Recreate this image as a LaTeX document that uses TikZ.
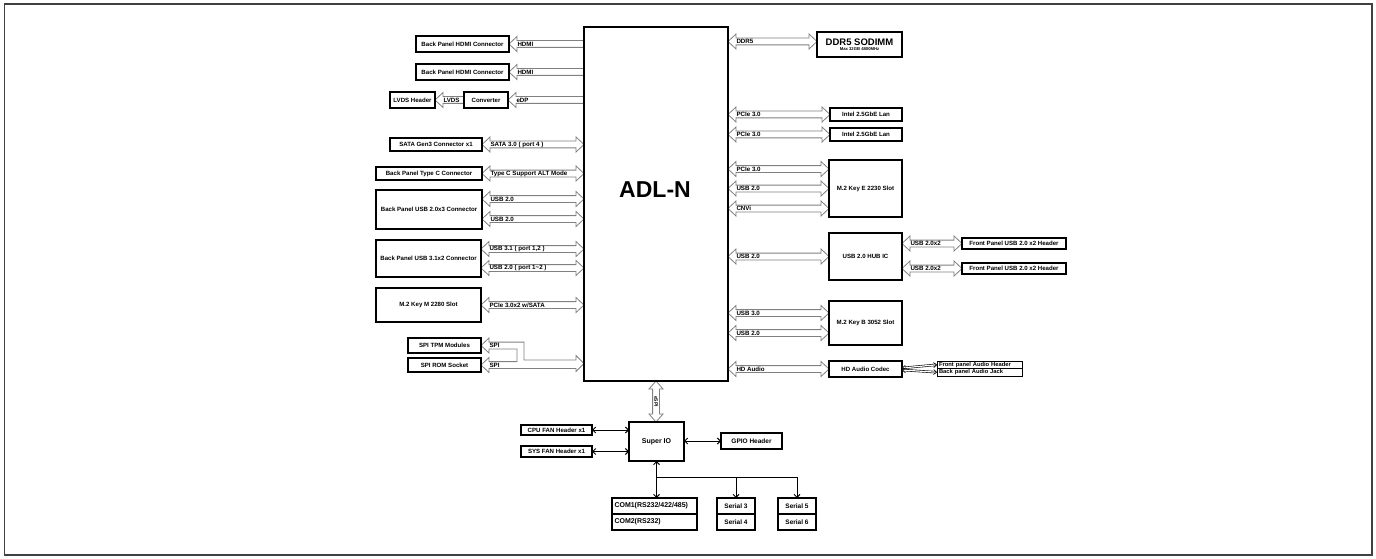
\documentclass[tikz,border=0pt]{standalone}
\usepackage{fontspec}
\setmainfont{Liberation Sans}
\usetikzlibrary{arrows.meta,calc}
\pgfdeclarelayer{bg}
\pgfsetlayers{bg,main}
\tikzset{
 bx/.style={draw=black,line width=1.1pt,inner sep=0pt,outer sep=0pt,align=center,fill=white,font=\bfseries\fontsize{6.1}{7}\selectfont},
 lbl/.style={inner sep=0pt,outer sep=0pt,font=\bfseries\fontsize{6.2}{7}\selectfont},
 blk/.style={draw=black!50,line width=0.8pt,fill=white,line join=miter},
 thinarr/.style={draw=black,line width=1pt,{Straight Barb[length=3pt,width=6pt]}-{Straight Barb[length=3pt,width=6pt]}},
 downarr/.style={draw=black,line width=1pt,-{Straight Barb[length=3pt,width=6pt]}},
 audarr/.style={draw=black,double=white,double distance=1.2pt,line width=0.6pt,{Straight Barb[length=3pt,width=5pt]}-{Straight Barb[length=3pt,width=5pt]}},
}
% double-headed horizontal block arrow: #1 left point, #2 right point, #3 label, #4 label name
\newcommand\hdbl[4]{%
 \draw[blk] let \p1=#1, \p2=#2 in
 (\x1,\y1) -- (\x1+8pt,\y1+7.5pt) -- (\x1+8pt,\y1+3.4pt) -- (\x2-8pt,\y1+3.4pt) -- (\x2-8pt,\y1+7.5pt)
 -- (\x2,\y1) -- (\x2-8pt,\y1-7.5pt) -- (\x2-8pt,\y1-3.4pt) -- (\x1+8pt,\y1-3.4pt) -- (\x1+8pt,\y1-7.5pt) -- cycle
 (\x1+8.5pt,\y1) node[lbl,anchor=west] (#4) {#3};}
% single-headed (head at left) horizontal block arrow
\newcommand\hsgl[4]{%
 \draw[blk] let \p1=#1, \p2=#2 in
 (\x1,\y1) -- (\x1+8pt,\y1+7.5pt) -- (\x1+8pt,\y1+3.4pt) -- (\x2,\y1+3.4pt)
 -- (\x2,\y1-3.4pt) -- (\x1+8pt,\y1-3.4pt) -- (\x1+8pt,\y1-7.5pt) -- cycle
 (\x1+8.5pt,\y1) node[lbl,anchor=west] (#4) {#3};}
\begin{document}
\begin{tikzpicture}[x=1pt,y=-1pt]
\useasboundingbox (0,0) rectangle (1376,559);
\begin{pgfonlayer}{bg}
\fill[white] (0,0) rectangle (1376,559);
\end{pgfonlayer}
\draw[line width=1.8pt,draw=black!75] (4.5,3.7) rectangle (1372,555);

% central chip
\node[bx,minimum width=144pt,minimum height=354pt] (adl) at (656,204) {};
\node[inner sep=0pt,font=\bfseries\fontsize{23}{25}\selectfont] (adltxt) at (655,190) {ADL-N};

% left side
\node[bx,minimum width=93pt,minimum height=16pt] (hdmi1) at (462.5,44) {Back Panel HDMI Connector};
\node[bx,minimum width=93pt,minimum height=16pt] (hdmi2) at (462.5,72) {Back Panel HDMI Connector};
\node[bx,minimum width=45pt,minimum height=16pt] (lvds) at (412.5,100) {LVDS Header};
\node[bx,minimum width=44pt,minimum height=16pt] (conv) at (486,100) {Converter};
\node[bx,minimum width=92pt,minimum height=13pt] (sata) at (436,144.5) {SATA Gen3 Connector x1};
\node[bx,minimum width=106pt,minimum height=13pt] (typec) at (429,173.5) {Back Panel Type C Connector};
\node[bx,minimum width=106pt,minimum height=39pt] (usb2x3) at (429,209.5) {Back Panel USB 2.0x3 Connector};
\node[bx,minimum width=105pt,minimum height=37pt] (usb31) at (428.5,258.5) {Back Panel USB 3.1x2 Connector};
\node[bx,minimum width=105pt,minimum height=34pt] (m2m) at (428.5,305) {M.2 Key M 2280 Slot};
\node[bx,minimum width=73pt,minimum height=15pt] (tpm) at (444.5,345.5) {SPI TPM Modules};
\node[bx,minimum width=73pt,minimum height=14pt] (rom) at (444.5,365) {SPI ROM Socket};

% right side
\node[bx,minimum width=85pt,minimum height=25pt] (ddr) at (859.5,44.5)
 {{\fontsize{9.5}{10}\selectfont DDR5 SODIMM}\\[-1.5pt]{\fontsize{4.2}{5}\selectfont Max 32GB 4800MHz}};
\node[bx,minimum width=72pt,minimum height=13pt] (lan1) at (866,114.5) {Intel 2.5GbE Lan};
\node[bx,minimum width=72pt,minimum height=13pt] (lan2) at (866,134.5) {Intel 2.5GbE Lan};
\node[bx,minimum width=73pt,minimum height=57pt] (m2e) at (865.5,188.5) {M.2 Key E 2230 Slot};
\node[bx,minimum width=73pt,minimum height=47pt] (hub) at (865.5,256.5) {USB 2.0 HUB IC};
\node[bx,minimum width=104pt,minimum height=11pt] (fp1) at (1014,243.5) {Front Panel USB 2.0 x2 Header};
\node[bx,minimum width=104pt,minimum height=11pt] (fp2) at (1014,268.5) {Front Panel USB 2.0 x2 Header};
\node[bx,minimum width=73pt,minimum height=44pt] (m2b) at (865.5,323) {M.2 Key B 3052 Slot};
\node[bx,minimum width=73pt,minimum height=16pt] (codec) at (865.5,369) {HD Audio Codec};
\node[bx,line width=0.9pt,text width=81pt,inner xsep=2pt,inner ysep=0pt,text height=4pt,text depth=1pt,minimum height=7.5pt,align=left,font=\bfseries\fontsize{5.8}{6}\selectfont] (fah) at (979.5,364.75) {Front panel Audio Header};
\node[bx,line width=0.9pt,text width=81pt,inner xsep=2pt,inner ysep=0pt,text height=4pt,text depth=1pt,minimum height=7.5pt,align=left,font=\bfseries\fontsize{5.8}{6}\selectfont] (baj) at (979.5,372.25) {Back panel Audio Jack};

% bottom
\node[bx,minimum width=55pt,minimum height=39pt,font=\bfseries\fontsize{7}{8}\selectfont] (superio) at (656.5,441.5) {Super IO};
\node[bx,minimum width=71pt,minimum height=10pt] (cpufan) at (556.5,430) {CPU FAN Header x1};
\node[bx,minimum width=71pt,minimum height=11pt] (sysfan) at (556.5,451.5) {SYS FAN Header x1};
\node[bx,minimum width=61pt,minimum height=16pt,font=\bfseries\fontsize{6.5}{7}\selectfont] (gpio) at (751.5,441) {GPIO Header};
\node[bx,text width=80pt,inner xsep=2.5pt,minimum height=16pt,align=left,font=\bfseries\fontsize{7}{8}\selectfont] (com1) at (654.5,506) {COM1(RS232/422/485)};
\node[bx,text width=80pt,inner xsep=2.5pt,minimum height=16pt,align=left,font=\bfseries\fontsize{7}{8}\selectfont] (com2) at (654.5,522) {COM2(RS232)};
\node[bx,minimum width=38pt,minimum height=16pt,font=\bfseries\fontsize{6.5}{7}\selectfont] (ser3) at (736,506) {Serial 3};
\node[bx,minimum width=38pt,minimum height=16pt,font=\bfseries\fontsize{6.5}{7}\selectfont] (ser4) at (736,522) {Serial 4};
\node[bx,minimum width=38pt,minimum height=16pt,font=\bfseries\fontsize{6.5}{7}\selectfont] (ser5) at (797,506) {Serial 5};
\node[bx,minimum width=38pt,minimum height=16pt,font=\bfseries\fontsize{6.5}{7}\selectfont] (ser6) at (797,522) {Serial 6};

\begin{pgfonlayer}{bg}
% left arrows
\hsgl{(hdmi1.east)}{(adl.west)}{HDMI}{a1}
\hsgl{(hdmi2.east)}{(adl.west)}{HDMI}{a2}
\hsgl{(lvds.east)}{(conv.west)}{LVDS}{a3}
\hsgl{(conv.east)}{(adl.west)}{eDP}{a4}
\hdbl{(sata.east)}{(adl.west)}{SATA 3.0 ( port 4 )}{a5}
\hdbl{(typec.east)}{(adl.west)}{Type C Support ALT Mode}{a6}
\hdbl{($(usb2x3.east)+(0,-10.5)$)}{(adl.west)}{USB 2.0}{a7}
\hdbl{($(usb2x3.east)+(0,9.5)$)}{(adl.west)}{USB 2.0}{a8}
\hdbl{($(usb31.east)+(0,-9.5)$)}{(adl.west)}{USB 3.1 ( port 1,2 )}{a9}
\hdbl{($(usb31.east)+(0,9.5)$)}{(adl.west)}{USB 2.0 ( port 1\textasciitilde 2 )}{a10}
\hdbl{(m2m.east)}{(adl.west)}{PCIe 3.0x2 w/SATA}{a11}
% SPI merged arrow
\draw[blk] let \p1=(tpm.east), \p2=(rom.east), \p3=(adl.west) in
 (\x1,\y1) -- (\x1+8pt,\y1+7.5pt) -- (\x1+8pt,\y1+3.4pt) -- (\x1+43pt,\y1+3.4pt) -- (\x1+43pt,\y2+5pt)
 -- (\x3-8pt,\y2+5pt) -- (\x3-8pt,\y2+9.5pt) -- (\x3,\y2+1.5pt) -- (\x3-8pt,\y2-6.5pt) -- (\x3-8pt,\y2-3.4pt)
 -- (\x2+8pt,\y2-3.4pt) -- (\x2+8pt,\y2-7.5pt) -- (\x2,\y2) -- (\x2+8pt,\y2+7.5pt) -- (\x2+8pt,\y2+3.4pt)
 -- (\x1+36pt,\y2+3.4pt) -- (\x1+36pt,\y1-3.4pt) -- (\x1+8pt,\y1-3.4pt) -- (\x1+8pt,\y1-7.5pt) -- cycle
 (\x1+8.5pt,\y1) node[lbl,anchor=west] (spi1) {SPI}
 (\x2+8.5pt,\y2) node[lbl,anchor=west] (spi2) {SPI};
% right arrows
\hdbl{($(adl.east |- ddr.west)+(0,-3)$)}{(ddr.west)}{DDR5}{b1}
\hdbl{(adl.east |- lan1.west)}{(lan1.west)}{PCIe 3.0}{b2}
\hdbl{(adl.east |- lan2.west)}{(lan2.west)}{PCIe 3.0}{b3}
\hdbl{($(adl.east |- m2e.west)+(0,-19.5)$)}{(m2e.west)}{PCIe 3.0}{b4}
\hdbl{(adl.east |- m2e.west)}{(m2e.west)}{USB 2.0}{b5}
\hdbl{($(adl.east |- m2e.west)+(0,20)$)}{(m2e.west)}{CNVi}{b6}
\hdbl{(adl.east |- hub.west)}{(hub.west)}{USB 2.0}{b7}
\hdbl{(hub.east |- fp1.west)}{(fp1.west)}{USB 2.0x2}{b8}
\hdbl{(hub.east |- fp2.west)}{(fp2.west)}{USB 2.0x2}{b9}
\hdbl{($(adl.east |- m2b.west)+(0,-10)$)}{(m2b.west)}{USB 3.0}{b10}
\hdbl{($(adl.east |- m2b.west)+(0,10)$)}{(m2b.west)}{USB 2.0}{b11}
\hdbl{(adl.east |- codec.west)}{(codec.west)}{HD Audio}{b12}
% eSPI vertical arrow
\draw[blk] let \p1=(adl.south), \p2=(superio.north) in
 (\x1,\y1) -- (\x1+7pt,\y1-8pt) -- (\x1+3.4pt,\y1-8pt) -- (\x1+3.4pt,\y2+8pt) -- (\x1+7pt,\y2+8pt)
 -- (\x1,\y2) -- (\x1-7pt,\y2+8pt) -- (\x1-3.4pt,\y2+8pt) -- (\x1-3.4pt,\y1-8pt) -- (\x1-7pt,\y1-8pt) -- cycle
 ({\x1},{0.5*\y1+0.5*\y2}) node[lbl,rotate=-90,font=\bfseries\fontsize{5}{5}\selectfont] (espi) {eSPI};
\end{pgfonlayer}

% thin connectors
\draw[thinarr] (cpufan.east) -- (cpufan.east -| superio.west);
\draw[thinarr] (sysfan.east) -- (sysfan.east -| superio.west);
\draw[thinarr] (superio.east |- gpio.west) -- (gpio.west);
\draw[thinarr] (superio.south) -- (superio.south |- com1.north);
\coordinate (bj) at ($(superio.south)+(0,16)$);
\draw[line width=1pt] (bj) -- (bj -| ser5.north);
\draw[downarr] (bj -| ser3.north) -- (ser3.north);
\draw[downarr] (bj -| ser5.north) -- (ser5.north);
\draw[audarr] ($(codec.east)+(0,-1)$) -- (fah.west);
\draw[audarr] ($(codec.east)+(0,1)$) -- (baj.west);
\end{tikzpicture}
\end{document}
